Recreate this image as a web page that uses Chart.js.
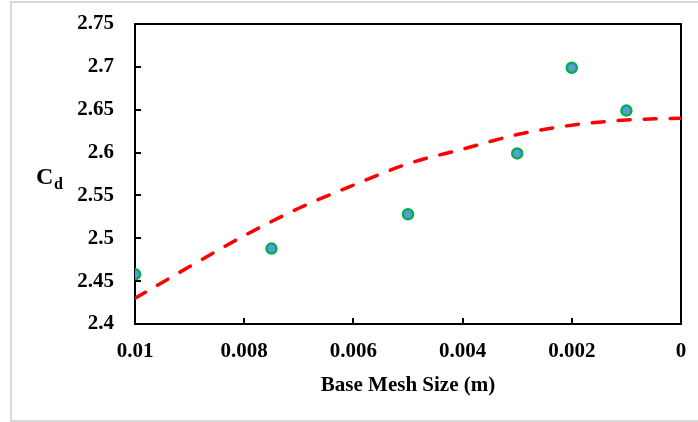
<!DOCTYPE html>
<html>
<head>
<meta charset="utf-8">
<script src="https://cdn.jsdelivr.net/npm/chart.js@4.4.0/dist/chart.umd.min.js"></script>
<style>
  body { margin: 0; background: #fff; }
  canvas { display: block; }
</style>
</head>
<body>
<canvas id="cdChart" width="698" height="422"></canvas>
<script>
// measured drag coefficient vs base mesh size
const meshSizes = [0.01, 0.0075, 0.005, 0.003, 0.002, 0.001];
const cdValues = [2.458, 2.488, 2.528, 2.599, 2.699, 2.649];

// dashed trend line
const trendSizes = [0.01, 0.009, 0.008, 0.007, 0.006, 0.005, 0.004, 0.003, 0.002, 0.001, 0];
const trendValues = [2.430, 2.467, 2.503, 2.535, 2.562, 2.587, 2.604, 2.621, 2.632, 2.638, 2.640];

const xTickLabels = ["0", "0.002", "0.004", "0.006", "0.008", "0.01"];
const yTickLabels = ["2.4", "2.45", "2.5", "2.55", "2.6", "2.65", "2.7", "2.75"];

const serif = "'Liberation Serif', 'Times New Roman', serif";

const toPoints = (xs, ys) => xs.map((x, i) => ({ x: x, y: ys[i] }));

// outer grey frame, plot box, inward ticks and the C_d label
const decorations = {
  id: "decorations",
  beforeDraw(chart) {
    const ctx = chart.ctx;
    ctx.save();
    ctx.fillStyle = "#fff";
    ctx.fillRect(0, 0, chart.width, chart.height);
    ctx.strokeStyle = "#d9d9d9";
    ctx.lineWidth = 2;
    ctx.strokeRect(11, 2, 690, 419);
    ctx.restore();
  },
  beforeDatasetsDraw(chart) {
    const { ctx, scales } = chart;
    const x = scales.x, y = scales.y;
    const left = Math.round(x.getPixelForValue(0.01));
    const right = Math.round(x.getPixelForValue(0));
    const top = Math.round(y.getPixelForValue(2.75));
    const bottom = Math.round(y.getPixelForValue(2.4));
    ctx.save();
    ctx.strokeStyle = "#000";
    ctx.lineWidth = 2;
    ctx.beginPath();
    y.ticks.forEach((t) => {
      const py = Math.round(y.getPixelForValue(t.value));
      ctx.moveTo(left, py);
      ctx.lineTo(left + 6, py);
    });
    x.ticks.forEach((t) => {
      const px = Math.round(x.getPixelForValue(t.value));
      ctx.moveTo(px, bottom);
      ctx.lineTo(px, bottom - 6);
    });
    ctx.stroke();
    ctx.strokeRect(left, top, right - left, bottom - top);

    ctx.fillStyle = "#000";
    ctx.textBaseline = "alphabetic";
    ctx.font = "bold 24px " + serif;
    ctx.fillText("C", 36, 184);
    ctx.font = "bold 16px " + serif;
    ctx.fillText("d", 54, 189);
    ctx.restore();
  },
};

new Chart(document.getElementById("cdChart"), {
  type: "scatter",
  data: {
    datasets: [
      {
        label: "Cd",
        data: toPoints(meshSizes, cdValues),
        pointRadius: 5,
        pointBorderWidth: 2.5,
        pointBackgroundColor: "#5b9bd5",
        pointBorderColor: "#00b050",
        showLine: false,
        order: 0,
      },
      {
        label: "Trend",
        data: toPoints(trendSizes, trendValues),
        showLine: true,
        pointRadius: 0,
        borderColor: "#ff0000",
        borderWidth: 3.5,
        borderDash: [12, 14],
        borderCapStyle: "round",
        cubicInterpolationMode: "monotone",
        order: 1,
      },
    ],
  },
  options: {
    responsive: false,
    animation: false,
    layout: { padding: { left: 0, top: 24, right: 17, bottom: 24 } },
    plugins: {
      legend: { display: false },
      tooltip: { enabled: false },
    },
    scales: {
      x: {
        type: "linear",
        reverse: true,
        min: 0,
        max: 0.01,
        afterFit: (scale) => { scale.height = 74; },
        afterBuildTicks: (scale) => {
          scale.ticks = xTickLabels.map((l) => ({ value: parseFloat(l) }));
        },
        ticks: {
          padding: 15,
          color: "#000",
          font: { family: serif, size: 21, weight: "bold" },
          callback: (v) => xTickLabels.find((l) => Math.abs(parseFloat(l) - v) < 1e-9),
        },
        grid: { display: false, drawTicks: false },
        border: { display: false },
        title: {
          display: true,
          text: "Base Mesh Size (m)",
          color: "#000",
          padding: 0,
          font: { family: serif, size: 21, weight: "bold" },
        },
      },
      y: {
        min: 2.4,
        max: 2.75,
        afterFit: (scale) => {
          scale.width = 135;
          // label padding should not push the plot top down
          scale.paddingTop = 12;
          scale.paddingBottom = 12;
        },
        afterBuildTicks: (scale) => {
          scale.ticks = yTickLabels.map((l) => ({ value: parseFloat(l) }));
        },
        ticks: {
          padding: 21,
          color: "#000",
          font: { family: serif, size: 21, weight: "bold" },
          callback: (v) => yTickLabels.find((l) => Math.abs(parseFloat(l) - v) < 1e-9),
        },
        grid: { display: false, drawTicks: false },
        border: { display: false },
      },
    },
  },
  plugins: [decorations],
});
</script>
</body>
</html>
